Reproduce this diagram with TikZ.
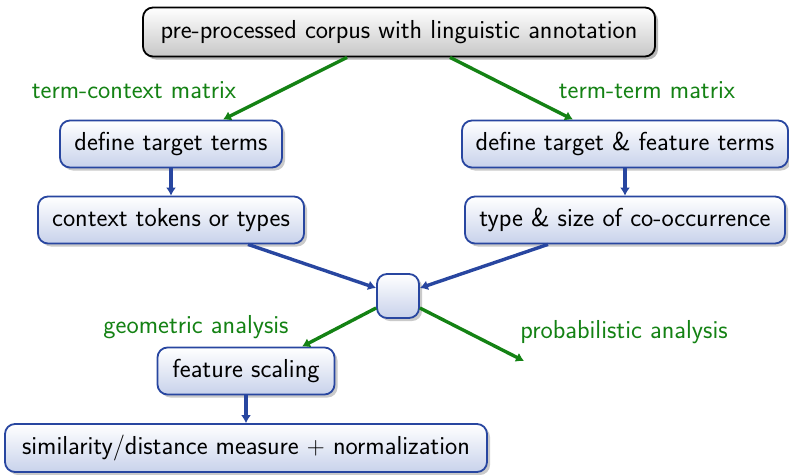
\documentclass[tikz,border=0pt]{standalone}
\usetikzlibrary{shadows,arrows.meta,calc}
\definecolor{bblue}{RGB}{40,70,160}
\definecolor{bgreen}{RGB}{20,130,20}
\definecolor{bfill}{RGB}{200,210,235}
\begin{document}
\begin{tikzpicture}[x=1pt,y=-1pt,
  font=\sffamily\fontsize{26}{30}\selectfont,
  box/.style={draw=bblue, line width=1.8pt, rounded corners=10pt, top color=white, bottom color=bfill, drop shadow={shadow xshift=3pt, shadow yshift=-3pt, fill=black!35, opacity=0.6}, align=center, inner sep=0pt},
  topbox/.style={draw=black, line width=1.8pt, rounded corners=10pt, top color=white, bottom color=black!22, drop shadow={shadow xshift=3pt, shadow yshift=-3pt, fill=black!40, opacity=0.7}, inner sep=0pt},
  barrow/.style={draw=bblue, line width=3.4pt, -{Latex[length=8pt,width=10pt]}},
  garrow/.style={draw=bgreen, line width=3.4pt, -{Latex[length=8pt,width=10pt]}},
  glabel/.style={text=bgreen, inner sep=0pt}]
\useasboundingbox (0,0) rectangle (789,474);
\node[topbox, minimum width=512pt, minimum height=49pt] (top) at (399,32) {pre-processed corpus with linguistic annotation};
\node[box, minimum width=222pt, minimum height=47pt] (dtt) at (171,144) {define target terms};
\node[box, minimum width=326pt, minimum height=47pt] (dtf) at (625,144) {define target \& feature terms};
\node[box, minimum width=266pt, minimum height=47pt] (ctx) at (171,220) {context tokens or types};
\node[box, minimum width=320pt, minimum height=47pt] (tsc) at (625,220) {type \& size of co-occurrence};
\node[box, minimum width=42pt, minimum height=44pt] (sm) at (398,296) {};
\node[box, minimum width=177pt, minimum height=47pt] (fs) at (246,371) {feature scaling};
\node[box, minimum width=482pt, minimum height=48pt] (sim) at (246,448) {similarity/distance measure $+$ normalization};
\node[glabel] (l1) at (134,90) {term-context matrix};
\node[glabel] (l2) at (647,90) {term-term matrix};
\node[glabel] (l3) at (196,327) {geometric analysis};
\node[glabel] (l4) at (624,332) {probabilistic analysis};
\coordinate (pend) at (524,361);
\draw[garrow] ([xshift=-52pt]top.south) -- ([xshift=52pt]dtt.north);
\draw[garrow] ([xshift=51pt]top.south) -- ([xshift=-52pt]dtf.north);
\draw[barrow] (dtt.south) -- (ctx.north);
\draw[barrow] (dtf.south) -- (tsc.north);
\draw[barrow] ([xshift=77pt]ctx.south) -- ([yshift=8pt]sm.west);
\draw[barrow] ([xshift=-77pt]tsc.south) -- ([yshift=8pt]sm.east);
\draw[garrow] ([yshift=-12pt]sm.west) -- ([xshift=56pt]fs.north);
\draw[garrow] ([yshift=-12pt]sm.east) -- (pend);
\draw[barrow] (fs.south) -- (sim.north);
\end{tikzpicture}
\end{document}
